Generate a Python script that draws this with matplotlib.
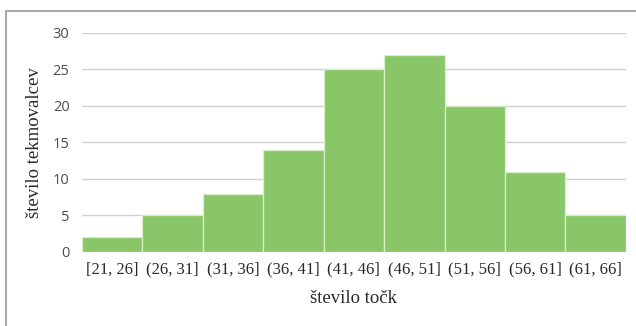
import numpy as np
import matplotlib.pyplot as plt
from matplotlib.patches import Rectangle

intervali = ['[21, 26]', '(26, 31]', '(31, 36]', '(36, 41]', '(41, 46]',
             '(46, 51]', '(51, 56]', '(56, 61]', '(61, 66]']
tekmovalci = [2, 5, 8, 14, 25, 27, 20, 11, 5]
y_ticks = [0, 5, 10, 15, 20, 25, 30]

fig = plt.figure(figsize=(6.36, 3.26), dpi=100)
ax = fig.add_axes([0.129, 0.227, 0.855, 0.672])

# okvir okoli slike (desni in spodnji rob sta odrezana)
fig.patches.append(Rectangle((6 / 636, -0.1), 1.2, 1 - 11 / 326 + 0.1,
                             transform=fig.transFigure, fill=False,
                             edgecolor='#9a9a9a', linewidth=1.2))

x = np.arange(len(intervali))
ax.bar(x, tekmovalci, width=1.0, color='#88c668', edgecolor='#d8f0c8',
       linewidth=0.9, zorder=3)

ax.set_xlim(-0.5, len(intervali) - 0.5)
ax.set_ylim(0, 30)
ax.set_yticks(y_ticks)
ax.yaxis.grid(True, color='#d0d0d0', linewidth=1.0, zorder=0)
for s in ax.spines.values():
    s.set_visible(False)
ax.tick_params(axis='both', length=0)
ax.tick_params(axis='y', pad=9, labelsize=10.5, labelcolor='#4a4a4a')
ax.set_yticklabels([str(v) for v in y_ticks], family='Open Sans')

ax.set_xticks(x)
ax.set_xticklabels(intervali, family='Liberation Serif', fontsize=12,
                   color='#2a2a2a')
ax.tick_params(axis='x', pad=7)

ax.set_xlabel('število točk', family='Liberation Serif', fontsize=13.5,
              color='#2a2a2a', labelpad=9)
ax.set_ylabel('število tekmovalcev', family='Liberation Serif', fontsize=13.5,
              color='#2a2a2a', labelpad=7)

fig.savefig('out.png', dpi=100)
